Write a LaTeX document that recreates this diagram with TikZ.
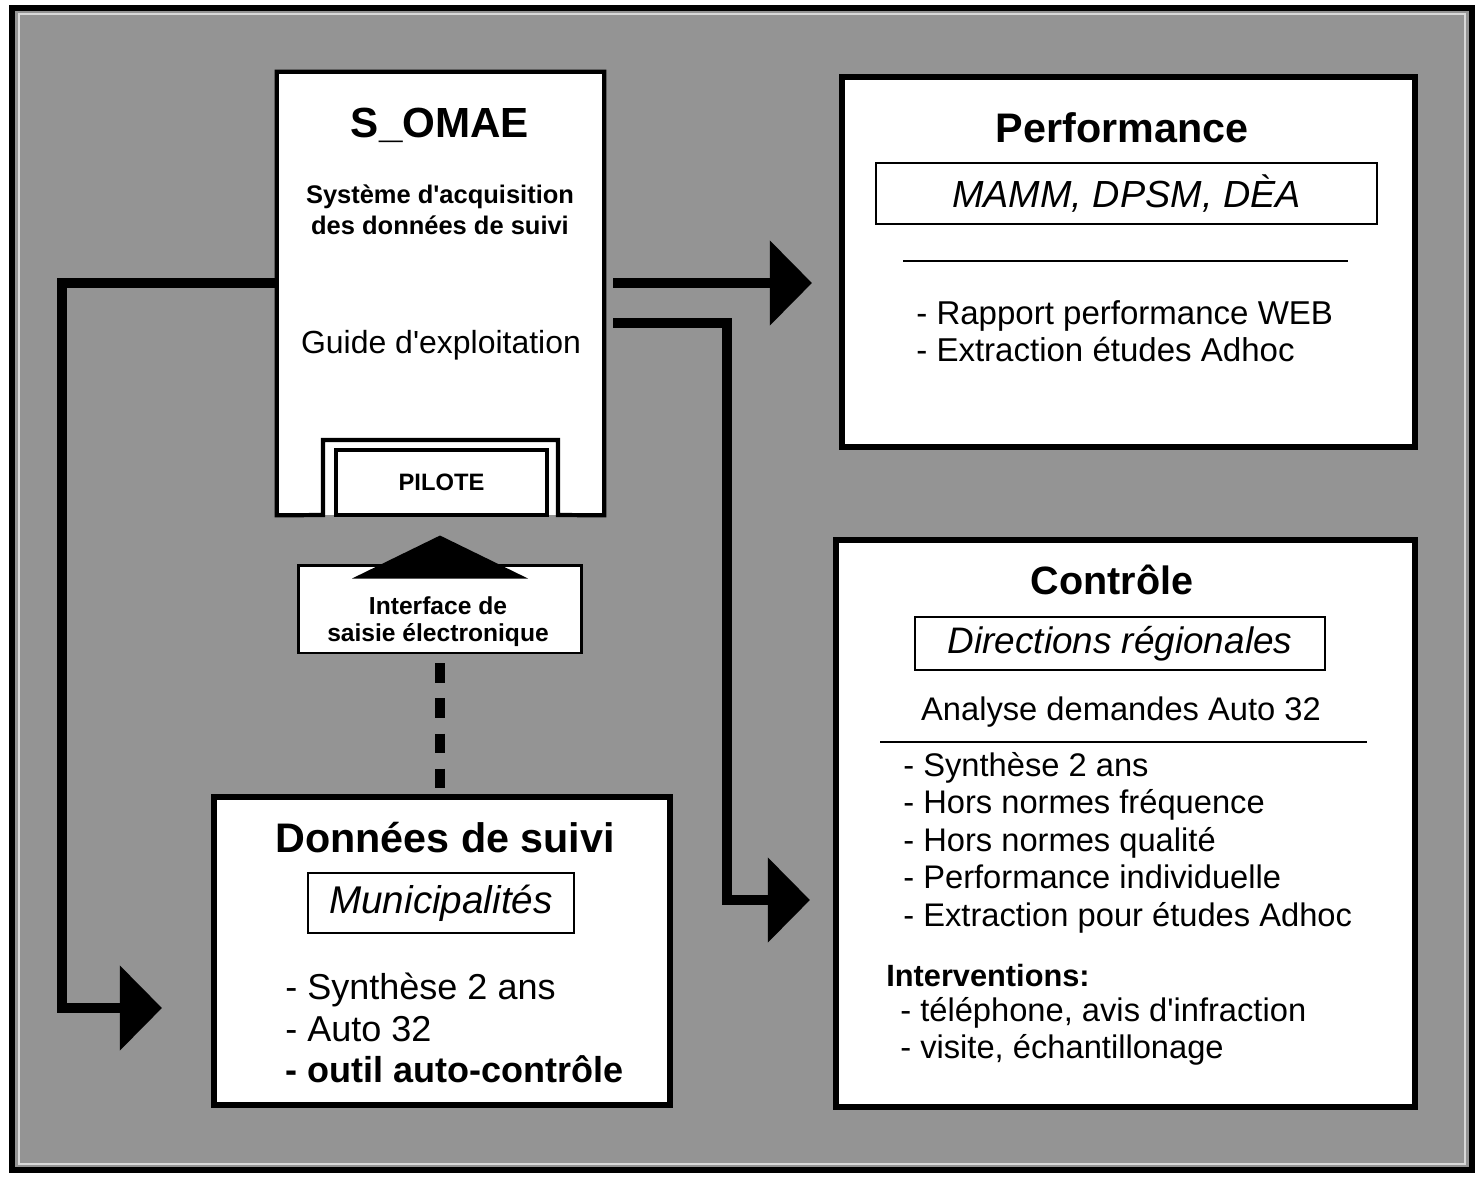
\documentclass[tikz,border=0pt]{standalone}
\usepackage{fontspec}
\setmainfont{Liberation Sans}
\usepackage{tikz}
\usetikzlibrary{arrows.meta}
\usetikzlibrary{positioning}
\usetikzlibrary{calc}

\tikzset{
  panel/.style={draw, fill=white, line width=3pt, inner sep=0pt},
  tagbox/.style={draw, fill=white, line width=1.3pt, inner sep=0pt},
  flow/.style={line width=6.2pt, line join=miter, -{Triangle[length=24pt,width=47pt]}},
  title/.style={inner sep=0pt, font=\fontsize{23.5pt}{26pt}\selectfont\bfseries},
  plain/.style={inner sep=0pt, align=left, anchor=west, font=\fontsize{18.6pt}{21.3pt}\selectfont},
}

\begin{document}
\begin{tikzpicture}[x=0.02cm, y=-0.02cm]
\useasboundingbox (0,0) rectangle (1478,1178);
\draw[line width=3pt, fill=black!42] (12,8) rectangle (1472,1170);
\draw[line width=1pt, black!15] (19,14) rectangle (1465,1164);

% S_OMAE
\node[fill=white, inner sep=0pt, minimum width=6.54cm, minimum height=8.86cm] (somae) at (440.5,293.5) {};
\draw[line width=2.4pt] (323,515) -- (somae.south west) -- (somae.north west) -- (somae.north east)
  -- (somae.south east) -- (558,515) -- (558,440) -- (323,440) -- cycle;
\node[title, font=\fontsize{24pt}{26pt}\selectfont\bfseries] (somaet) at (440,125) {S\_OMAE};
\node[inner sep=0pt, align=center, font=\fontsize{14.5pt}{17.6pt}\selectfont\bfseries] (acq) at (440,210)
  {Système d\textquotesingle acquisition\\des données de suivi};
\node[inner sep=0pt, font=\fontsize{18.2pt}{20pt}\selectfont] (guide) at (441,345) {Guide d\textquotesingle exploitation};
\node[draw, fill=white, line width=2.2pt, minimum width=4.22cm, minimum height=1.3cm,
  font=\fontsize{13.5pt}{15pt}\selectfont\bfseries] (pilote) at (441.5,482.5) {PILOTE};

% saisie
\node[draw, fill=white, line width=1.7pt, minimum width=5.68cm, minimum height=1.76cm] (saisie) at (440,609) {};
\node[inner sep=0pt, align=center, font=\fontsize{14pt}{15.3pt}\selectfont\bfseries] (saisiet) at (438,622)
  {Interface de\\saisie électronique};
\fill ($(saisie.north)+(0,-28)$) -- ++(-88,43) -- ++(176,0) -- cycle;

% Donnees
\node[panel, minimum width=9.12cm, minimum height=6.16cm] (donnees) at (442,951) {};
\draw[line width=6.2pt, dash pattern=on 11pt off 9pt, shorten <=5pt] (saisie.south) -- (saisie.south |- donnees.north);
\node[title] (donneest) at (445,838) {Données de suivi};
\node[tagbox, minimum width=5.32cm, minimum height=1.2cm, font=\fontsize{22pt}{24pt}\selectfont\itshape] (munic) at (441,903) {Municipalités};
\node[plain, font=\fontsize{20.5pt}{23.5pt}\selectfont] (munlist) at (285,1028)
  {- Synthèse 2 ans\\- Auto 32\\\textbf{- outil auto-contrôle}};

% Performance
\node[panel, minimum width=11.46cm, minimum height=7.4cm] (perf) at (1128.5,262) {};
\node[title] (perft) at (1122,128) {Performance};
\node[tagbox, minimum width=10.02cm, minimum height=1.22cm, font=\fontsize{21.5pt}{24pt}\selectfont\itshape] (mamm) at (1126.5,193.5) {MAMM, DPSM, DÈA};
\draw[line width=1.4pt] (903,261) -- (1348,261);
\node[plain, font=\fontsize{18.8pt}{21pt}\selectfont] (perflist) at (916,331.5)
  {- Rapport performance WEB\\- Extraction études Adhoc};

% Controle
\node[panel, minimum width=11.58cm, minimum height=11.34cm] (ctrl) at (1125.5,823.5) {};
\node[title, font=\fontsize{22.5pt}{25pt}\selectfont\bfseries] (ctrlt) at (1112,580) {Contrôle};
\node[tagbox, minimum width=8.2cm, minimum height=1.06cm, font=\fontsize{21pt}{24pt}\selectfont\itshape] (direg) at (1120,643.5) {Directions régionales};
\node[inner sep=0pt, font=\fontsize{18.6pt}{21pt}\selectfont] (analyse) at (1121,712) {Analyse demandes Auto 32};
\draw[line width=1.4pt] (880,742) -- (1367,742);
\node[plain] (ctrllist) at (903,842.5)
  {- Synthèse 2 ans\\- Hors normes fréquence\\- Hors normes qualité\\- Performance individuelle\\- Extraction pour études Adhoc};
\node[plain, font=\fontsize{17.5pt}{20pt}\selectfont\bfseries] (interv) at (886,975) {Interventions:};
\node[plain, font=\fontsize{18.6pt}{21pt}\selectfont] (intlist) at (900,1031.5)
  {- téléphone, avis d\textquotesingle infraction\\- visite, échantillonage};

% fleches
\coordinate (inend) at (162,1008);
\coordinate (perfend) at (812,283);
\coordinate (ctrlend) at (810,900);
\draw[flow] (somae.west |- 0,283) -- (62,283) -- (62,1008) -- (inend);
\draw[flow, shorten <=5pt] (somae.east |- 0,283) -- (perfend);
\draw[flow, shorten <=5pt] (somae.east |- 0,323) -- (727,323) -- (727,900) -- (ctrlend);
\end{tikzpicture}
\end{document}
